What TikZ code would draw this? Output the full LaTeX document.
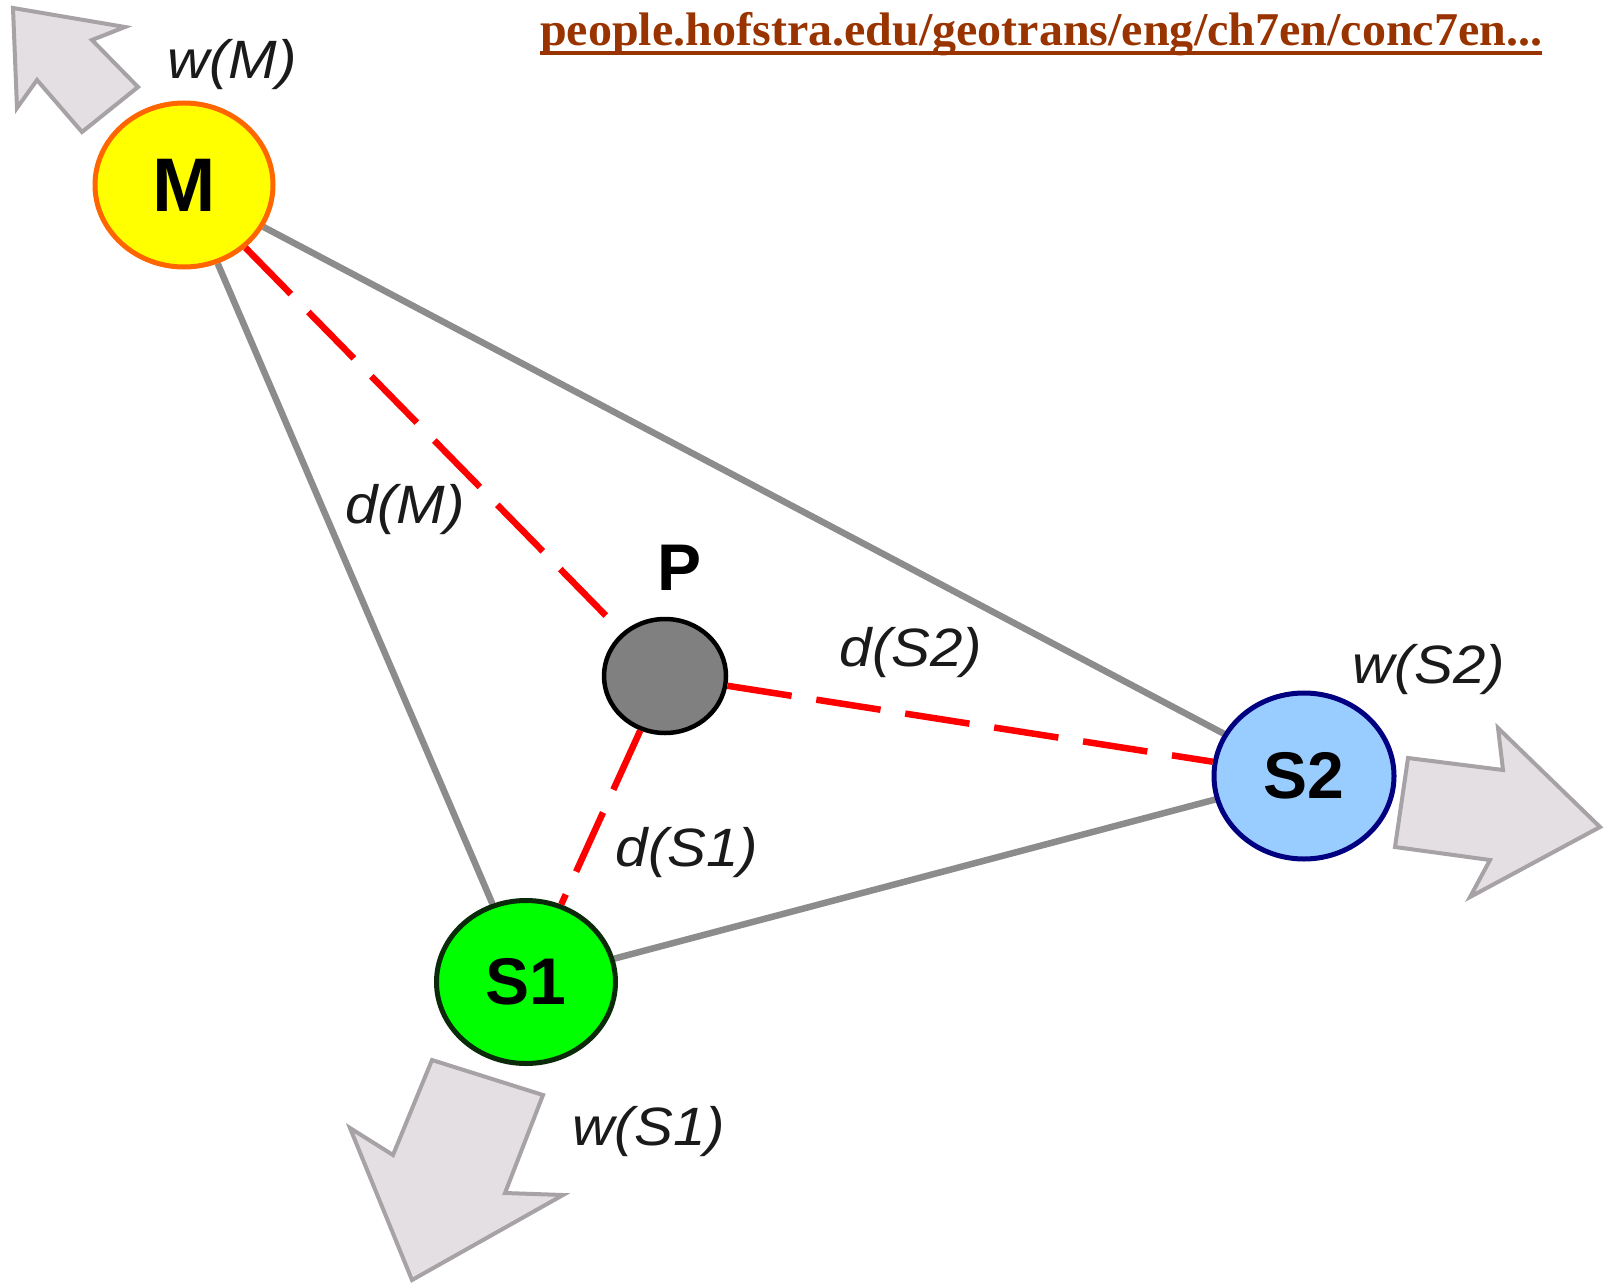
\documentclass[tikz,border=0pt]{standalone}
\usepackage{fontspec}
\setmainfont{Liberation Sans}
\newfontfamily\urlfont{Liberation Serif}
\usetikzlibrary{shapes.geometric}
\pgfdeclarelayer{background}
\pgfsetlayers{background,main}
\definecolor{conngray}{HTML}{8C8C8C}
\definecolor{arrfill}{HTML}{E3DFE3}
\definecolor{arrline}{HTML}{A6A2A6}
\definecolor{urlbrown}{HTML}{993300}
\definecolor{mfill}{HTML}{FFFF00}
\definecolor{mline}{HTML}{FF6600}
\definecolor{sonefill}{HTML}{00FF00}
\definecolor{soneline}{HTML}{0A2A0A}
\definecolor{stwofill}{HTML}{99CCFF}
\definecolor{stwoline}{HTML}{000080}
\definecolor{pfill}{HTML}{808080}
\definecolor{labtext}{HTML}{1A1A1A}
\begin{document}
\begin{tikzpicture}[x=1pt,y=-1pt,
  site/.style={ellipse, draw, line width=5pt, inner sep=0pt, text=black,
    font=\fontsize{66}{66}\selectfont\bfseries},
  lab/.style={font=\fontsize{54}{54}\selectfont\itshape, text=labtext, xscale=1.08},
  conn/.style={draw=conngray, line width=6.5pt},
  dist/.style={draw=red, line width=6.5pt, dash pattern=on 65pt off 25pt},
  weight/.style={fill=arrfill, draw=arrline, line width=4pt, line join=miter}]
\useasboundingbox (0,0) rectangle (1608,1284);

% weight arrows
\draw[weight] (13,8) -- (125,27) -- (92,40) -- (138,87) -- (82,132) -- (37,80) -- (17,108) -- cycle;
\draw[weight] (1408,758) -- (1503,770) -- (1498,728) -- (1600,827) -- (1470,897) -- (1490,860) -- (1395,847) -- cycle;
\draw[weight] (432,1060) -- (543,1095) -- (505,1193) -- (563,1195) -- (412,1280) -- (350,1128) -- (393,1155) -- cycle;

% sites
\node[site, fill=mfill, draw=mline, minimum width=178pt, minimum height=164pt,
  font=\fontsize{76}{76}\selectfont\bfseries] (M) at (184,185) {M};
\node[site, fill=sonefill, draw=soneline, minimum width=179pt, minimum height=163pt] (S1) at (526,982) {S1};
\node[site, fill=stwofill, draw=stwoline, minimum width=180pt, minimum height=166pt] (S2) at (1304,776) {S2};
\node[site, fill=pfill, draw=black, line width=4.5pt, minimum width=122pt, minimum height=114pt] (P) at (665,676) {};

% connectors
\begin{pgfonlayer}{background}
\draw[conn] (M) -- (S1);
\draw[conn] (M) -- (S2);
\draw[conn] (S1) -- (S2);
\end{pgfonlayer}
\draw[dist] (M) -- (P);
\draw[dist] (P) -- (S2);
\draw[dist] (P) -- (S1);

% labels
\node[font=\fontsize{66}{66}\selectfont\bfseries] (Plab) at (680,568) {P};
\node[lab] (wM) at (232,65) {w(M)};
\node[lab] (dM) at (405,510) {d(M)};
\node[lab] (dS2) at (911,653) {d(S2)};
\node[lab] (wS2) at (1429,670) {w(S2)};
\node[lab] (dS1) at (687,853) {d(S1)};
\node[lab] (wS1) at (649,1132) {w(S1)};

% source
\node[anchor=base west, inner sep=0pt, text=urlbrown, xscale=1.022,
  font=\fontsize{47}{47}\urlfont\bfseries] (url) at (540,46)
  {people.hofstra.edu/geotrans/eng/ch7en/conc7en...};
\draw[urlbrown, line width=4pt] ([yshift=-7pt]url.base west) -- ([yshift=-7pt]url.base east);
\end{tikzpicture}
\end{document}
